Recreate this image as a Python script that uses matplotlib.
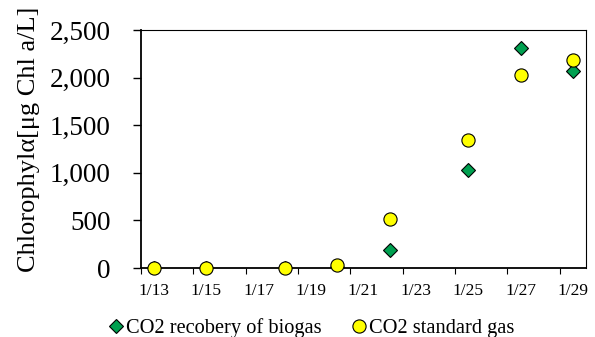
import matplotlib
matplotlib.use("Agg")
import matplotlib.pyplot as plt
from matplotlib.ticker import FuncFormatter, FixedLocator

# Data (day of January)
days = [13, 15, 18, 20, 22, 25, 27, 29]
biogas = [0, 0, 0, 10, 189, 1033, 2308, 2066]
standard = [0, 0, 0, 30, 515, 1345, 2031, 2185]
xlabels_days = [13, 15, 17, 19, 21, 23, 25, 27, 29]
xtick_labels = [f"1/{d}" for d in xlabels_days]
yticks = [0, 500, 1000, 1500, 2000, 2500]

plt.rcParams['font.family'] = ['Liberation Serif', 'DejaVu Serif']

fig = plt.figure(figsize=(5.95, 3.37), dpi=100)
ax = fig.add_axes([141/595, 1-268/337, (586-141)/595, (268-30)/337])

ax.plot(days, biogas, linestyle='none', marker='D', markersize=7.2,
        markerfacecolor='#00A050', markeredgecolor='black', markeredgewidth=0.8,
        label='CO2 recobery of biogas', zorder=3)
ax.plot(days, standard, linestyle='none', marker='o', markersize=9.5,
        markerfacecolor='#FFFF00', markeredgecolor='black', markeredgewidth=0.8,
        label='CO2 standard gas', zorder=4, clip_on=False)

ax.set_xlim(12.5, 29.5)
ax.set_ylim(0, 2500)
ax.set_yticks(yticks)
ax.yaxis.set_major_formatter(FuncFormatter(lambda v, p: f"{int(v):,}"))
ax.tick_params(axis='y', labelsize=19.5, direction='out', length=6, width=1.0, pad=16)

# tick marks between dates, labels centered on dates
ax.xaxis.set_major_locator(FixedLocator([12.5 + 2*k for k in range(9)]))
ax.xaxis.set_minor_locator(FixedLocator(xlabels_days))
ax.set_xticklabels([])
ax.set_xticklabels(xtick_labels, minor=True)
ax.tick_params(axis='x', which='major', direction='out', length=4, width=0.8)
ax.tick_params(axis='x', which='minor', length=0, labelsize=12.5, pad=10.5)

ax.set_ylabel('Chlorophylα[μg Chl a/L]', fontsize=19)
ax.yaxis.set_label_coords(-(141-40)/445, (268-139)/238)

for s in ['left', 'bottom']:
    ax.spines[s].set_linewidth(1.3)
for s in ['top', 'right']:
    ax.spines[s].set_linewidth(0.8)

fig.legend(loc='center', bbox_to_anchor=(310/595, 1-328/337), ncol=2, frameon=False,
           fontsize=14.7, handletextpad=0.0, columnspacing=1.3, numpoints=1,
           handlelength=1.0, borderpad=0)

fig.savefig('out.png', dpi=100)
